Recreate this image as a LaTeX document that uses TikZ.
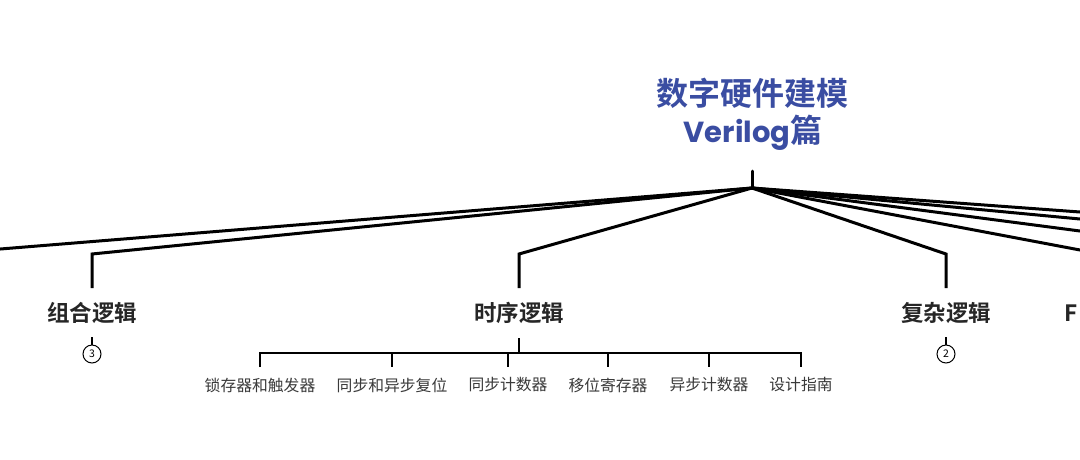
\documentclass[tikz,border=0pt]{standalone}
\usepackage{fontspec}
\newfontfamily\cjk{Noto Sans CJK SC}
\newfontfamily\cjkb{Noto Sans CJK SC Bold}
\newfontfamily\pop{Poppins}
\usetikzlibrary{calc}
\definecolor{titleblue}{HTML}{3A4DA2}
\definecolor{subgray}{HTML}{3A3A3A}
\tikzset{
  branch/.style={line width=3pt, draw=black, line join=miter},
  subbranch/.style={line width=2.4pt, draw=black},
  thin/.style={line width=1.4pt, draw=black},
  mainlabel/.style={font=\cjkb\fontsize{22.5}{26}\selectfont, text=black!85, inner sep=0pt},
  sublabel/.style={font=\cjk\fontsize{15.8}{18}\selectfont, text=subgray, inner sep=0pt},
  numcirc/.style={circle, draw=black, line width=1pt, minimum size=18pt, inner sep=0pt, font=\cjk\fontsize{10.5}{11}\selectfont, fill=white},
}
\begin{document}
\begin{tikzpicture}[x=1pt,y=-1pt]
\clip (0,0) rectangle (1080,459);
\fill[white] (0,0) rectangle (1080,459);
% title
\node[font=\cjkb\fontsize{32}{36}\selectfont, text=titleblue, align=center, inner sep=0pt] (title1) at (752,93) {数字硬件建模};
\node[font=\cjkb\fontsize{32}{36}\selectfont, text=titleblue, align=center, inner sep=0pt] (title2) at (753,133) {{\pop\bfseries\fontsize{29}{34}\selectfont Verilog}篇};
% hub
\coordinate (stubtop) at (752,171);
\coordinate (hub) at (752,188);
\draw[branch, line cap=round] (stubtop) -- (hub);
% off-canvas branches
\coordinate (Lend) at (-49,253);
\draw[branch] (hub) -- (Lend);
\coordinate (R1) at ($(hub)!1.9!(1080,212)$);
\coordinate (R2) at ($(hub)!1.9!(1080,219)$);
\coordinate (R3) at ($(hub)!1.9!(1080,231)$);
\coordinate (R4) at ($(hub)!1.2!(1080,250)$);
\draw[branch] (hub) -- (R1);
\draw[branch] (hub) -- (R2);
\draw[branch] (hub) -- (R3);
\draw[branch] (hub) -- (R4);
% main children
\node[mainlabel] (zh) at (92,313) {组合逻辑};
\node[mainlabel] (sx) at (519,313) {时序逻辑};
\node[mainlabel] (fz) at (946,313) {复杂逻辑};
\node[mainlabel, anchor=west] (ff) at (1064,313) {F};
\coordinate (zhc) at (92,254);
\coordinate (sxc) at (519,254);
\coordinate (fzc) at (946,254);
\coordinate (zht) at (92,288);
\coordinate (sxt) at (519,288);
\coordinate (fzt) at (946,288);
\draw[branch] (hub) -- (zhc) -- (zht);
\draw[branch] (hub) -- (sxc) -- (sxt);
\draw[branch] (hub) -- (fzc) -- (fzt);
% collapsed counts
\node[numcirc] (n3) at (92,354) {3};
\node[numcirc] (n2) at (946,354) {2};
\coordinate (n3t) at (92,337);
\coordinate (n2t) at (946,337);
\draw[thin] (n3t) -- (n3.north);
\draw[thin] (n2t) -- (n2.north);
% sequential logic children
\coordinate (sxb) at (519,338);
\coordinate (sxbar) at (519,353);
\draw[subbranch] (sxb) -- (sxbar);
\node[sublabel] (c1) at (260,385) {锁存器和触发器};
\node[sublabel] (c2) at (392,385) {同步和异步复位};
\node[sublabel] (c3) at (508,385) {同步计数器};
\node[sublabel] (c4) at (608,385) {移位寄存器};
\node[sublabel] (c5) at (709,385) {异步计数器};
\node[sublabel] (c6) at (801,385) {设计指南};
\draw[subbranch, line join=miter] (c1.north |- 0,367) -- (c1.north |- sxbar) -- (c6.north |- sxbar) -- (c6.north |- 0,367);
\foreach \c in {c2,c3,c4,c5}{
  \draw[subbranch] (\c.north |- sxbar) -- (\c.north |- 0,367);
}
\end{tikzpicture}
\end{document}
